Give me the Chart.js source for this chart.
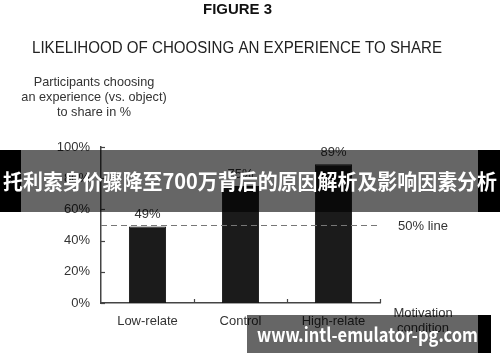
<!DOCTYPE html>
<html>
<head>
<meta charset="utf-8">
<style>
  html, body { margin: 0; padding: 0; background: #fff; }
  #wrap { width: 500px; height: 362px; position: relative; }
</style>
<script src="https://cdn.jsdelivr.net/npm/chart.js@4.4.0/dist/chart.umd.min.js"></script>
</head>
<body>
<div id="wrap"><canvas id="fig3" width="500" height="362"></canvas></div>
<script>
const categories = ["Low-relate", "Control", "High-relate"];
const shareValues = [49, 75, 89];
const yTicks = [0, 20, 40, 60, 80, 100];
const refLine = 50;

const FONT = "'Liberation Sans', Arial, Helvetica, sans-serif";
const CJK = "'Noto Sans CJK SC', 'Noto Sans', sans-serif";

// draw text centred at cx, squeezed/stretched to a given width
function fitText(c, text, cx, cy, width) {
    const w = c.measureText(text).width;
    c.save();
    c.translate(cx, cy);
    c.scale(width / w, 1);
    c.textAlign = "center";
    c.fillText(text, 0, 0);
    c.restore();
}

const overlay = {
    id: "overlay",
    afterDatasetsDraw(chart) {
        const c = chart.ctx;
        const x = chart.scales.x;
        const y = chart.scales.y;
        const area = chart.chartArea;
        c.save();

        // inward ticks on y axis
        c.strokeStyle = "#444";
        c.lineWidth = 1.2;
        for (const t of yTicks) {
            const py = Math.round(y.getPixelForValue(t)) + 0.5;
            c.beginPath();
            c.moveTo(area.left, py);
            c.lineTo(area.left + 4, py);
            c.stroke();
        }
        // category boundary ticks on x axis
        const step = x.getPixelForValue(1) - x.getPixelForValue(0);
        for (let i = 0; i < categories.length; i++) {
            const px = Math.round(x.getPixelForValue(i) + step / 2) + 0.5;
            c.beginPath();
            c.moveTo(px, area.bottom);
            c.lineTo(px, area.bottom - 4);
            c.stroke();
        }

        // 50% dashed line
        const ly = Math.round(y.getPixelForValue(refLine)) + 0.5;
        c.strokeStyle = "#777";
        c.lineWidth = 1.2;
        c.setLineDash([6, 4]);
        c.beginPath();
        c.moveTo(area.left, ly);
        c.lineTo(area.right - 2, ly);
        c.stroke();
        c.setLineDash([]);

        c.fillStyle = "#333";
        c.font = "13px " + FONT;
        c.textAlign = "left";
        c.textBaseline = "middle";
        c.fillText(refLine + "% line", 398, ly + 1);

        // value labels
        c.textAlign = "center";
        const meta = chart.getDatasetMeta(0);
        meta.data.forEach((bar, i) => {
            c.fillText(shareValues[i] + "%", bar.x, bar.y - 12);
        });

        // titles
        c.fillStyle = "#111";
        c.font = "bold 15px " + FONT;
        fitText(c, "FIGURE 3", 237.5, 10, 69);
        c.fillStyle = "#222";
        c.font = "16px " + FONT;
        fitText(c, "LIKELIHOOD OF CHOOSING AN EXPERIENCE TO SHARE", 237, 49, 410);

        c.fillStyle = "#333";
        c.font = "12.7px " + FONT;
        c.fillText("Participants choosing", 94, 82);
        c.fillText("an experience (vs. object)", 94, 97);
        c.fillText("to share in %", 94, 112);

        c.font = "13px " + FONT;
        c.fillText("Motivation", 423, 313);
        c.fillText("condition", 423, 328);

        // banner across the chart
        c.fillStyle = "#000";
        c.fillRect(0, 150, 21, 62);
        c.fillRect(478, 150, 22, 62);
        c.fillStyle = "rgba(0,0,0,0.6)";
        c.fillRect(21, 150, 457, 62);
        c.fillStyle = "#fff";
        c.font = "bold 21px " + CJK;
        fitText(c, "托利索身价骤降至700万背后的原因解析及影响因素分析", 250, 181, 494);

        // watermark
        c.fillStyle = "rgba(0,0,0,0.6)";
        c.fillRect(247, 315, 231, 38);
        c.fillStyle = "#000";
        c.fillRect(478, 315, 13, 38);
        c.fillStyle = "#fff";
        c.font = "bold 19px " + CJK;
        fitText(c, "www.intl-emulator-pg.com", 367.5, 335, 221);

        c.restore();
    }
};

const ctx = document.getElementById("fig3").getContext("2d");

const chart = new Chart(ctx, {
    type: "bar",
    data: {
        labels: categories,
        datasets: [{
            data: shareValues,
            backgroundColor: "#1b1b1b",
            borderColor: "#111",
            borderWidth: 1,
            barPercentage: 0.4,
            categoryPercentage: 1
        }]
    },
    options: {
        responsive: false,
        animation: false,
        events: [],
        layout: { padding: { top: 147, right: 120, left: 0, bottom: 0 } },
        plugins: {
            legend: { display: false },
            tooltip: { enabled: false }
        },
        scales: {
            x: {
                grid: { display: false, drawTicks: false },
                border: { display: true, color: "#444", width: 1.5 },
                ticks: { color: "#333", font: { family: FONT, size: 13 }, padding: 11, maxRotation: 0 },
                afterFit: (s) => { s.height = 59; }
            },
            y: {
                min: 0,
                max: 100,
                grid: { display: false, drawTicks: false },
                border: { display: true, color: "#444", width: 1.5 },
                afterBuildTicks: (s) => { s.ticks = yTicks.map(v => ({ value: v })); },
                ticks: {
                    color: "#333",
                    font: { family: FONT, size: 13 },
                    padding: 11,
                    callback: (v) => v + "%"
                },
                afterFit: (s) => { s.width = 101; }
            }
        }
    },
    plugins: [overlay]
});
</script>
</body>
</html>
